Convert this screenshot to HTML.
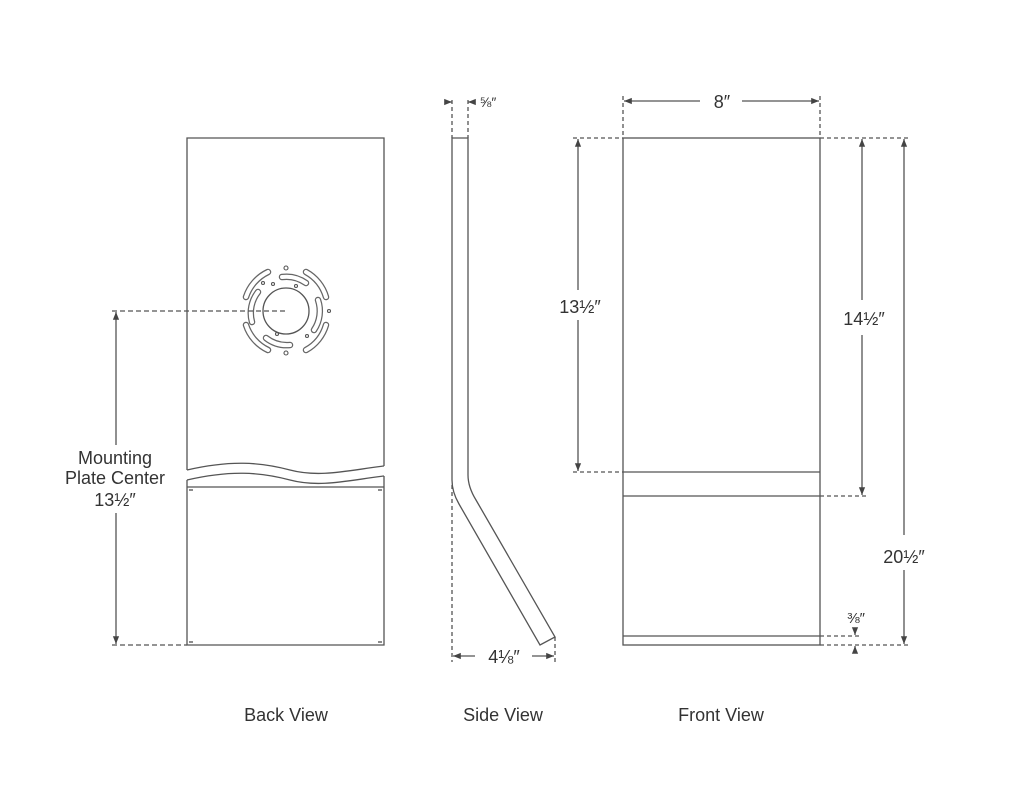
<!DOCTYPE html>
<html><head><style>
html,body{margin:0;padding:0;background:#fff;}
svg{display:block;}
text{font-family:"Liberation Sans",sans-serif;fill:#333;}
</style></head><body>
<svg width="1024" height="802" viewBox="0 0 1024 802" xmlns="http://www.w3.org/2000/svg">
<defs>
<marker id="a" viewBox="0 0 10 10" refX="10" refY="5" markerWidth="6" markerHeight="6" orient="auto-start-reverse"><path d="M0,1 L10,5 L0,9 z" fill="#444"/></marker>
<g id="slots">
<path d="M246,297 A42,42 0 0 1 268,272"/>
<path d="M306,272 A42,42 0 0 1 326,297"/>
<path d="M326,325 A42,42 0 0 1 306,350"/>
<path d="M268,350 A42,42 0 0 1 246,325"/>
<path d="M252,322 A34,34 0 0 1 258,292"/>
<path d="M282,277 A34,34 0 0 1 306,283"/>
<path d="M318,300 A34,34 0 0 1 314,330"/>
<path d="M290,345 A34,34 0 0 1 266,338"/>
</g>
</defs>
<g stroke="#555" stroke-width="1.3" fill="none">
<!-- Back view -->
<path d="M187,470 L187,138 L384,138 L384,466"/>
<path d="M187,470 C230,460 260,462 290,470 C320,478 350,470 384,466"/>
<path d="M187,480 C230,470 260,472 290,480 C320,488 350,480 384,476"/>
<path d="M187,480 L187,645 L384,645 L384,476"/>
<line x1="187" y1="487" x2="384" y2="487"/>
<circle cx="286" cy="311" r="23"/>
<use href="#slots" stroke="#666" stroke-width="6.5" stroke-linecap="round"/>
<use href="#slots" stroke="#fff" stroke-width="4" stroke-linecap="round"/>
<g stroke-width="1.1">
<circle cx="286" cy="268" r="2"/><circle cx="286" cy="353" r="2"/>
<circle cx="263" cy="283" r="1.5"/><circle cx="273" cy="284" r="1.5"/><circle cx="296" cy="286" r="1.5"/>
<circle cx="277" cy="334" r="1.5"/><circle cx="307" cy="336" r="1.5"/><circle cx="329" cy="311" r="1.5"/>
</g>
<!-- mounting dim -->
<line x1="112" y1="311" x2="285" y2="311" stroke-dasharray="5,3"/>
<line x1="112" y1="645" x2="187" y2="645" stroke-dasharray="5,3"/>
<line x1="116" y1="312" x2="116" y2="644" marker-start="url(#a)" marker-end="url(#a)"/>
<!-- Side view -->
<path d="M452,138 L452,480 Q452,492 459,504 L540,645 L555,637 L476,500 Q468,487 468,475 L468,138 Z"/>
<line x1="452" y1="100" x2="452" y2="138" stroke-dasharray="4,3"/>
<line x1="468" y1="100" x2="468" y2="138" stroke-dasharray="4,3"/>
<line x1="446" y1="102" x2="452" y2="102" marker-end="url(#a)"/>
<line x1="474" y1="102" x2="468" y2="102" marker-end="url(#a)"/>
<line x1="452" y1="485" x2="452" y2="662" stroke-dasharray="4,3"/>
<line x1="555" y1="637" x2="555" y2="662" stroke-dasharray="4,3"/>
<line x1="475" y1="656" x2="453" y2="656" marker-end="url(#a)"/>
<line x1="532" y1="656" x2="554" y2="656" marker-end="url(#a)"/>
<!-- Front view -->
<rect x="623" y="138" width="197" height="507"/>
<line x1="623" y1="472" x2="820" y2="472"/>
<line x1="623" y1="496" x2="820" y2="496"/>
<line x1="623" y1="636" x2="820" y2="636"/>
<line x1="623" y1="96" x2="623" y2="138" stroke-dasharray="4,3"/>
<line x1="820" y1="96" x2="820" y2="138" stroke-dasharray="4,3"/>
<line x1="700" y1="101" x2="624" y2="101" marker-end="url(#a)"/>
<line x1="742" y1="101" x2="819" y2="101" marker-end="url(#a)"/>
<line x1="573" y1="138" x2="623" y2="138" stroke-dasharray="4,3"/>
<line x1="573" y1="472" x2="623" y2="472" stroke-dasharray="4,3"/>
<line x1="578" y1="290" x2="578" y2="139" marker-end="url(#a)"/>
<line x1="578" y1="320" x2="578" y2="471" marker-end="url(#a)"/>
<line x1="820" y1="138" x2="910" y2="138" stroke-dasharray="4,3"/>
<line x1="820" y1="496" x2="867" y2="496" stroke-dasharray="4,3"/>
<line x1="820" y1="636" x2="860" y2="636" stroke-dasharray="4,3"/>
<line x1="820" y1="645" x2="910" y2="645" stroke-dasharray="4,3"/>
<line x1="862" y1="300" x2="862" y2="139" marker-end="url(#a)"/>
<line x1="862" y1="335" x2="862" y2="495" marker-end="url(#a)"/>
<line x1="904" y1="535" x2="904" y2="139" marker-end="url(#a)"/>
<line x1="904" y1="570" x2="904" y2="644" marker-end="url(#a)"/>
<line x1="855" y1="628" x2="855" y2="635" marker-end="url(#a)"/>
<line x1="855" y1="652" x2="855" y2="646" marker-end="url(#a)"/>
</g>
<g stroke="#666" stroke-width="1.5">
<path d="M189,490 l4,0 M189,642 l4,0 M378,490 l4,0 M378,642 l4,0"/>
</g>
<rect x="55" y="445" width="125" height="68" fill="#fff"/>
<g font-size="18" text-anchor="middle">
<text x="115" y="464">Mounting</text>
<text x="115" y="484">Plate Center</text>
<text x="115" y="506">13½″</text>
<text x="488" y="107" font-size="14">⅝″</text>
<text x="504" y="663">4⅛″</text>
<text x="722" y="108">8″</text>
<text x="580" y="313">13½″</text>
<text x="864" y="325">14½″</text>
<text x="904" y="563">20½″</text>
<text x="856" y="623" font-size="15">⅜″</text>
<text x="286" y="721">Back View</text>
<text x="503" y="721">Side View</text>
<text x="721" y="721">Front View</text>
</g>
</svg>
</body></html>
